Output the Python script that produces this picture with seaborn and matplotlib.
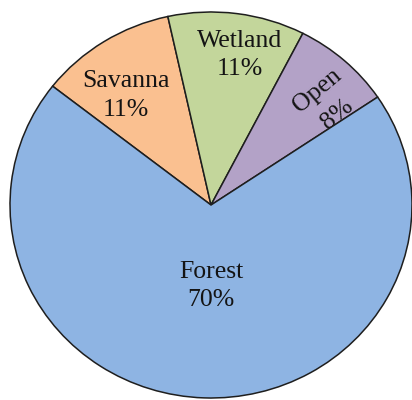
import numpy as np
import matplotlib
matplotlib.use("Agg")
import matplotlib.pyplot as plt
import seaborn as sns

# Data
categories = ["Savanna", "Wetland", "Open", "Forest"]
values = [11, 11, 8, 70]
pct_labels = ["11%", "11%", "8%", "70%"]

# Styling
colors = ["#fac090", "#c3d69b", "#b3a2c7", "#8eb4e3"]
label_dist = [0.71, 0.79, 0.785, 0.42]
label_shift = [4.5, -3.0, -6.0, 2.0]   # degrees
label_rot = [0, 0, 40, 0]
label_spacing = [1.4, 1.4, 1.55, 1.4]

sns.set_style("white")
plt.rcParams["font.family"] = ["Liberation Serif", "DejaVu Serif"]

W, H = 412, 400
fig = plt.figure(figsize=(W / 100, H / 100), dpi=100)
ax = fig.add_axes([0, 0, 1, 1])
cx, cy, rx, ry = 211, 205, 201, 193

wedges, _ = ax.pie(values, colors=colors, startangle=142, counterclock=False,
                   radius=1, center=(0, 0), frame=True,
                   wedgeprops=dict(edgecolor="#1e1e1e", linewidth=1.1))
ax.set_xlim(-cx / rx, (W - cx) / rx)
ax.set_ylim(-(H - cy) / ry, cy / ry)
ax.set_aspect("auto")
ax.axis("off")

for i, w in enumerate(wedges):
    w.set_zorder(3 if categories[i] == "Forest" else 1)
    mid = np.deg2rad((w.theta1 + w.theta2) / 2 + label_shift[i])
    x = label_dist[i] * np.cos(mid)
    y = label_dist[i] * np.sin(mid)
    z = 2 if categories[i] == "Open" else 4
    ax.text(x, y, f"{categories[i]}\n{pct_labels[i]}", ha="center", va="center",
            fontsize=18.5, color="#141414", rotation=label_rot[i],
            rotation_mode="anchor", linespacing=label_spacing[i], zorder=z)

fig.savefig("out.png", dpi=100, facecolor="white")
